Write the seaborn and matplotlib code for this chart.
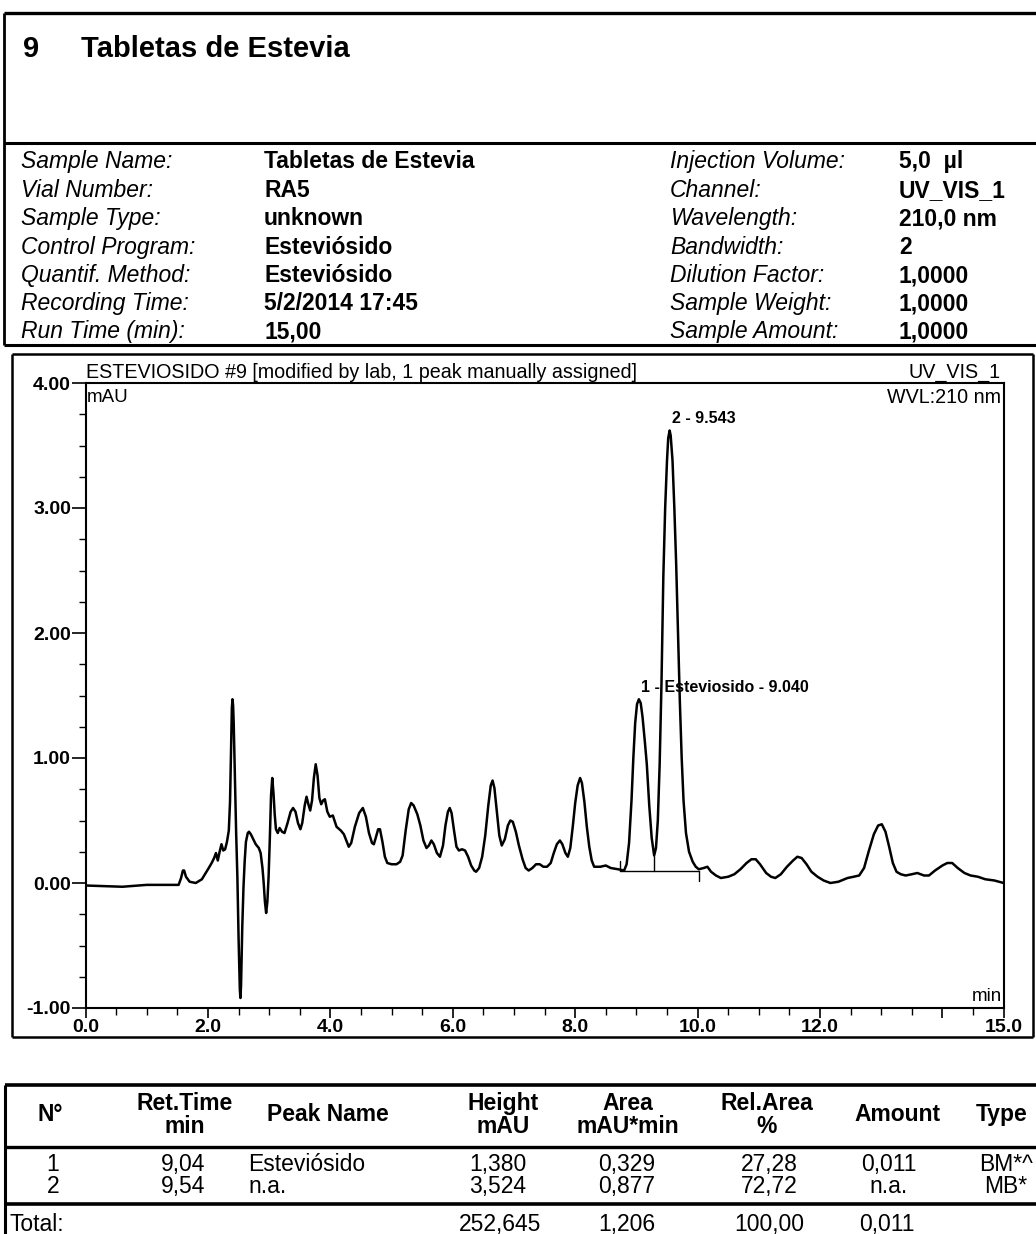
import matplotlib
matplotlib.use("Agg")
import matplotlib.pyplot as plt
from matplotlib.ticker import MultipleLocator
import numpy as np
import pandas as pd
import seaborn as sns

# ---------------- data ----------------
report_number = "9"
report_title = "Tabletas de Estevia"

info_left_labels = ["Sample Name:", "Vial Number:", "Sample Type:", "Control Program:",
                    "Quantif. Method:", "Recording Time:", "Run Time (min):"]
info_left_values = ["Tabletas de Estevia", "RA5", "unknown", "Esteviósido",
                    "Esteviósido", "5/2/2014 17:45", "15,00"]
info_right_labels = ["Injection Volume:", "Channel:", "Wavelength:", "Bandwidth:",
                     "Dilution Factor:", "Sample Weight:", "Sample Amount:"]
info_right_values = ["5,0  µl", "UV_VIS_1", "210,0 nm", "2", "1,0000", "1,0000", "1,0000"]

chart_title = "ESTEVIOSIDO #9 [modified by lab, 1 peak manually assigned]"
channel_label = "UV_VIS_1"
wvl_label = "WVL:210 nm"

time_min = [
    0.00, 0.30, 0.60, 1.00, 1.30, 1.52, 1.56, 1.59, 1.61, 1.64, 1.70, 1.80,
    1.90, 2.00, 2.06, 2.10, 2.13, 2.16, 2.19, 2.22, 2.25, 2.28, 2.31,
    2.34, 2.36, 2.38, 2.39, 2.40, 2.41, 2.42, 2.44, 2.46, 2.48, 2.50, 2.52,
    2.53, 2.54, 2.56, 2.58, 2.60, 2.62, 2.65, 2.67, 2.70, 2.74, 2.78, 2.83,
    2.86, 2.89, 2.91, 2.93, 2.95, 2.97,
    2.99, 3.01, 3.03, 3.05, 3.07, 3.09, 3.11, 3.14, 3.17, 3.21, 3.25, 3.30,
    3.35, 3.39, 3.43, 3.47, 3.51, 3.54, 3.58, 3.61, 3.64, 3.67, 3.70, 3.73,
    3.76, 3.79, 3.82, 3.85, 3.88, 3.91, 3.95, 3.99, 4.04, 4.10, 4.17, 4.22,
    4.26, 4.30, 4.34,
    4.40, 4.47, 4.53, 4.58, 4.63, 4.68, 4.71, 4.74, 4.78, 4.81, 4.85, 4.89,
    4.93, 5.00, 5.08, 5.14, 5.18, 5.23, 5.28, 5.32, 5.36, 5.42, 5.47, 5.52,
    5.57, 5.61, 5.65, 5.69, 5.74, 5.79, 5.84, 5.88, 5.92, 5.95, 5.98, 6.02,
    6.06, 6.10, 6.15, 6.20, 6.25, 6.30, 6.35, 6.38, 6.43, 6.48,
    6.53, 6.58, 6.62, 6.65, 6.68, 6.72, 6.76, 6.80, 6.85, 6.90, 6.94, 6.98,
    7.03, 7.08, 7.14, 7.19, 7.24, 7.30, 7.36, 7.42, 7.48, 7.54, 7.60, 7.65,
    7.70, 7.75, 7.79, 7.84, 7.88, 7.92, 7.96, 8.00, 8.04, 8.08, 8.11, 8.15,
    8.19, 8.23, 8.27, 8.31, 8.41, 8.50, 8.58, 8.70, 8.80,
    8.84, 8.88, 8.92, 8.95, 8.98, 9.01, 9.04, 9.07, 9.10, 9.14, 9.17, 9.21,
    9.25, 9.29, 9.32, 9.35, 9.38, 9.41, 9.44, 9.47, 9.50, 9.52, 9.543, 9.56,
    9.59, 9.62, 9.65, 9.68, 9.71, 9.74, 9.77, 9.81, 9.86, 9.92, 9.97, 10.02,
    10.10, 10.16,
    10.22, 10.30, 10.38, 10.50, 10.60, 10.70, 10.80, 10.88, 10.95, 11.02, 11.12, 11.20,
    11.27, 11.36, 11.46, 11.56, 11.63, 11.70, 11.78, 11.86, 11.96, 12.06, 12.17, 12.30,
    12.45, 12.55, 12.64, 12.72, 12.80, 12.88, 12.95, 13.01, 13.07, 13.13, 13.19, 13.25,
    13.32, 13.40, 13.50, 13.59, 13.70, 13.78, 13.88, 14.00, 14.08, 14.16, 14.25, 14.36,
    14.46, 14.58, 14.70, 14.85, 15.00]
signal_mau = [
    -0.02, -0.025, -0.03, -0.015, -0.015, -0.015, 0.04, 0.10, 0.10, 0.05, 0.01, 0.00,
    0.03, 0.11, 0.16, 0.20, 0.24, 0.18, 0.25, 0.31, 0.26, 0.27, 0.33,
    0.42, 0.65, 1.15, 1.40, 1.47, 1.42, 1.28, 0.85, 0.40, 0.05, -0.45, -0.85,
    -0.92, -0.82, -0.35, -0.03, 0.18, 0.33, 0.40, 0.41, 0.39, 0.35, 0.31, 0.28,
    0.24, 0.12, 0.00, -0.15, -0.24, -0.15,
    0.05, 0.35, 0.70, 0.84, 0.72, 0.55, 0.43, 0.40, 0.44, 0.41, 0.40, 0.48,
    0.57, 0.60, 0.57, 0.48, 0.43, 0.48, 0.62, 0.69, 0.63, 0.58, 0.66, 0.84,
    0.95, 0.86, 0.68, 0.63, 0.66, 0.67, 0.57, 0.53, 0.54, 0.45, 0.42, 0.39,
    0.34, 0.29, 0.32,
    0.45, 0.56, 0.60, 0.53, 0.40, 0.32, 0.31, 0.36, 0.43, 0.43, 0.33, 0.21,
    0.16, 0.15, 0.15, 0.17, 0.22, 0.42, 0.59, 0.64, 0.62, 0.55, 0.46, 0.34,
    0.28, 0.30, 0.34, 0.31, 0.24, 0.21, 0.30, 0.46, 0.57, 0.60, 0.56, 0.42,
    0.29, 0.26, 0.27, 0.26, 0.21, 0.14, 0.10, 0.09, 0.12, 0.21,
    0.38, 0.62, 0.78, 0.82, 0.76, 0.57, 0.38, 0.30, 0.35, 0.46, 0.50, 0.49,
    0.41, 0.30, 0.19, 0.12, 0.10, 0.12, 0.15, 0.15, 0.13, 0.13, 0.16, 0.24,
    0.31, 0.34, 0.31, 0.24, 0.21, 0.28, 0.45, 0.64, 0.78, 0.84, 0.80, 0.65,
    0.45, 0.29, 0.18, 0.13, 0.13, 0.14, 0.12, 0.11, 0.10,
    0.15, 0.32, 0.66, 1.00, 1.28, 1.43, 1.47, 1.44, 1.33, 1.12, 0.95, 0.62,
    0.36, 0.22, 0.28, 0.50, 0.95, 1.60, 2.45, 3.00, 3.38, 3.56, 3.62, 3.58,
    3.38, 3.00, 2.55, 2.00, 1.45, 1.00, 0.66, 0.40, 0.25, 0.17, 0.13, 0.11,
    0.12, 0.13,
    0.09, 0.06, 0.04, 0.05, 0.07, 0.11, 0.16, 0.19, 0.19, 0.15, 0.08, 0.05,
    0.04, 0.07, 0.13, 0.18, 0.21, 0.20, 0.15, 0.09, 0.05, 0.02, 0.00, 0.01,
    0.04, 0.05, 0.06, 0.12, 0.26, 0.39, 0.46, 0.47, 0.41, 0.29, 0.16, 0.09,
    0.07, 0.06, 0.07, 0.08, 0.06, 0.06, 0.10, 0.14, 0.16, 0.16, 0.12, 0.08,
    0.06, 0.05, 0.03, 0.02, 0.00]

peak_times = [9.040, 9.543]
peak_apex = [1.47, 3.62]
peak_labels = ["1 - Esteviosido - 9.040", "2 - 9.543"]
baseline_start, baseline_end, baseline_level = 8.74, 10.02, 0.10
valley_time, valley_level = 9.29, 0.22

ytick_vals = [-1, 0, 1, 2, 3, 4]
ytick_labels = ["-1.00", "0.00", "1.00", "2.00", "3.00", "4.00"]
xtick_vals = [0, 2, 4, 6, 8, 10, 12, 14, 15]
xtick_labels = ["0.0", "2.0", "4.0", "6.0", "8.0", "10.0", "12.0", "", "15.0"]

table_header_top = ["N°", "Ret.Time", "Peak Name", "Height", "Area", "Rel.Area", "Amount", "Type"]
table_header_bottom = ["", "min", "", "mAU", "mAU*min", "%", "", ""]
peak_no = ["1", "2"]
ret_time = ["9,04", "9,54"]
peak_name = ["Esteviósido", "n.a."]
height_mau = ["1,380", "3,524"]
area_mau_min = ["0,329", "0,877"]
rel_area = ["27,28", "72,72"]
amount = ["0,011", "n.a."]
peak_type = ["BM*^", "MB*"]
total_label = "Total:"
total_values = ["252,645", "1,206", "100,00", "0,011"]

assert len(time_min) == len(signal_mau)

# ---------------- style ----------------
sns.set_theme(style="white")
plt.rcParams["font.family"] = ["Liberation Sans", "DejaVu Sans"]
plt.rcParams["axes.edgecolor"] = "black"
plt.rcParams["xtick.color"] = "black"
plt.rcParams["ytick.color"] = "black"
plt.rcParams["text.color"] = "black"

W, H = 1036, 1234
fig = plt.figure(figsize=(W / 100, H / 100), dpi=100)
fig.patch.set_facecolor("white")

ov = fig.add_axes([0, 0, 1, 1])
ov.set_xlim(0, W)
ov.set_ylim(H, 0)
ov.axis("off")


def hline(y, x0, x1, lw=2.0):
    ov.plot([x0, x1], [y, y], color="black", lw=lw, solid_capstyle="butt")


def vline(x, y0, y1, lw=2.0):
    ov.plot([x, x], [y0, y1], color="black", lw=lw, solid_capstyle="butt")


def txt(x, yc, s, size, **kw):
    # place text by its visual (cap-height) centre using the baseline
    ov.text(x, yc + 0.358 * size * 100 / 72, s, fontsize=size, va="baseline", **kw)


# header box
hline(13, 4, W, lw=2.4)
hline(143, 4, W, lw=2.2)
hline(345, 4, W, lw=2.2)
vline(4, 13, 345, lw=2.0)

txt(23, 47, report_number, 21, fontweight="bold")
txt(81, 47, report_title, 21, fontweight="bold")

row_y = [160, 189, 217, 246, 274, 302, 330]
for i, y in enumerate(row_y):
    txt(21, y, info_left_labels[i], 16.5, fontstyle="italic")
    txt(264, y, info_left_values[i], 16.5, fontweight="bold")
    txt(670, y, info_right_labels[i], 16.5, fontstyle="italic")
    txt(899, y, info_right_values[i], 16.5, fontweight="bold")

# chart frame
hline(354, 12, 1033, lw=1.8)
hline(1037, 12, 1033, lw=1.8)
vline(12, 354, 1037, lw=1.8)
vline(1033, 354, 1037, lw=1.8)

# chart axes
L, T, R, B = 85.6, 383, 1003.6, 1008
ax = fig.add_axes([L / W, 1 - B / H, (R - L) / W, (B - T) / H])
ax.set_facecolor("none")
df = pd.DataFrame({"t": time_min, "mAU": signal_mau})
sns.lineplot(data=df, x="t", y="mAU", ax=ax, color="black", linewidth=1.8,
             estimator=None, sort=False)
ax.set_xlim(0, 15)
ax.set_ylim(-1, 4)
ax.set_xlabel("")
ax.set_ylabel("")
for s in ax.spines.values():
    s.set_linewidth(1.5)
    s.set_color("black")

# integration baseline marks
ax.plot([baseline_start, baseline_end], [baseline_level, baseline_level], color="black", lw=1.0)
ax.plot([baseline_start, baseline_start], [baseline_level, baseline_level + 0.08], color="black", lw=1.0)
ax.plot([valley_time, valley_time], [baseline_level, valley_level], color="black", lw=1.0)
ax.plot([baseline_end, baseline_end], [baseline_level, baseline_level - 0.08], color="black", lw=1.0)

ax.set_yticks(ytick_vals)
ax.set_yticklabels(ytick_labels)
ax.set_xticks(xtick_vals)
ax.set_xticklabels(xtick_labels)
ax.yaxis.set_minor_locator(MultipleLocator(0.25))
ax.xaxis.set_minor_locator(MultipleLocator(0.5))
ax.tick_params(axis="y", which="major", left=True, direction="out", length=10, width=1.2,
               pad=0.5, labelsize=14)
ax.tick_params(axis="y", which="minor", left=True, direction="out", length=5, width=1.0)
ax.tick_params(axis="x", which="major", bottom=True, direction="out", length=7, width=1.2,
               pad=1, labelsize=14)
ax.tick_params(axis="x", which="minor", bottom=True, direction="out", length=5, width=1.0)
for lbl in ax.get_xticklabels() + ax.get_yticklabels():
    lbl.set_fontweight("bold")

for t, y, lab in zip(peak_times, peak_apex, peak_labels):
    ax.annotate(lab, xy=(t, y), xytext=(1.5, 3), textcoords="offset points",
                ha="left", va="bottom", fontsize=11.5, fontweight="bold")

txt(86, 371, chart_title, 14.2)
txt(1001, 371, channel_label, 14.2, ha="right")
txt(1001, 396, wvl_label, 14.2, ha="right")
txt(87, 395, "mAU", 13.5)
txt(1002, 994, "min", 13.5, ha="right")

# results table
hline(1085, 5, W, lw=2.6)
hline(1147, 5, W, lw=2.4)
hline(1204, 5, W, lw=2.6)
vline(5, 1085, H, lw=2.2)

col_x = [50, 185, 328, 503, 628, 767, 897, 1002]
for i, x in enumerate(col_x):
    if table_header_bottom[i]:
        txt(x, 1102, table_header_top[i], 16.5, fontweight="bold", ha="center")
        txt(x, 1125, table_header_bottom[i], 16.5, fontweight="bold", ha="center")
    else:
        txt(x, 1113, table_header_top[i], 16.5, fontweight="bold", ha="center")

data_y = [1163, 1185]
for r, y in enumerate(data_y):
    txt(53, y, peak_no[r], 16.5, ha="center")
    txt(183, y, ret_time[r], 16.5, ha="center")
    txt(248, y, peak_name[r], 16.5, ha="left")
    txt(498, y, height_mau[r], 16.5, ha="center")
    txt(627, y, area_mau_min[r], 16.5, ha="center")
    txt(769, y, rel_area[r], 16.5, ha="center")
    txt(889, y, amount[r], 16.5, ha="center")
    txt(1006, y, peak_type[r], 16.5, ha="center")

txt(10, 1223, total_label, 16.5, ha="left")
for x, v in zip([500, 627, 769, 887], total_values):
    txt(x, 1223, v, 16.5, ha="center")

fig.savefig("out.png", dpi=100)
